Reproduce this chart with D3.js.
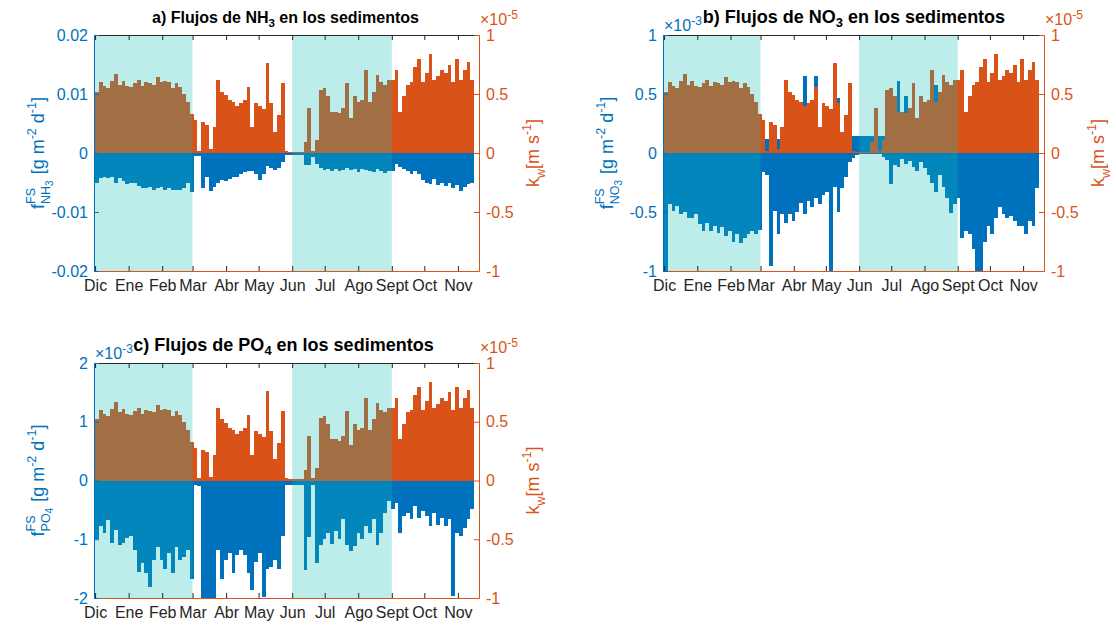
<!DOCTYPE html>
<html>
<head>
<meta charset="utf-8">
<script src="https://cdn.jsdelivr.net/npm/d3@7"></script>
<style>
  body { margin: 0; background: #fff; }
  svg { display: block; font-family: "Liberation Sans", Arial, Helvetica, sans-serif; }
  text { white-space: pre; }
</style>
</head>
<body>
<svg id="chart" width="1116" height="625"></svg>
<script>
// day offsets from 1 Dec and their labels
const monthStart = [0, 31, 62, 90, 121, 151, 182, 212, 243, 274, 304, 335];
const monthLabels = ['Dic', 'Ene', 'Feb', 'Mar', 'Abr', 'May', 'Jun', 'Jul', 'Ago', 'Sept', 'Oct', 'Nov'];
const stepDays = 3.5;                       // each bar covers 3.5 days
const shadedPeriods = [[0, 90], [182, 274]]; // Dic-Mar, Jun-Sept

// k_w (x 1e-5 m/s), same series in the three panels
const kw = [
  0.52, 0.60, 0.57, 0.55, 0.61, 0.67, 0.58, 0.61, 0.57, 0.56,
  0.59, 0.62, 0.57, 0.60, 0.59, 0.58, 0.64, 0.60, 0.61, 0.60,
  0.55, 0.59, 0.56, 0.50, 0.43, 0.33, 0.28, 0.02, 0.26, 0.24,
  0.03, 0.22, 0.62, 0.52, 0.49, 0.45, 0.43, 0.40, 0.42, 0.45,
  0.56, 0.22, 0.42, 0.40, 0.37, 0.76, 0.42, 0.18, 0.32, 0.59,
  0.02, 0.01, 0.01, 0.01, 0.01, 0.09, 0.38, 0.02, 0.11, 0.53,
  0.55, 0.48, 0.35, 0.35, 0.34, 0.38, 0.59, 0.30, 0.48, 0.43,
  0.45, 0.70, 0.43, 0.52, 0.66, 0.60, 0.58, 0.62, 0.62, 0.70,
  0.35, 0.48, 0.58, 0.60, 0.73, 0.80, 0.60, 0.68, 0.84, 0.62,
  0.65, 0.70, 0.68, 0.75, 0.60, 0.80, 0.62, 0.70, 0.77, 0.62
];

// NH3 flux (g m-2 d-1)
const fluxNH3 = [
  -0.0050, -0.0042, -0.0040, -0.0042, -0.0040, -0.0050, -0.0043, -0.0048, -0.0052, -0.0050,
  -0.0050, -0.0056, -0.0059, -0.0060, -0.0058, -0.0062, -0.0060, -0.0057, -0.0062, -0.0060,
  -0.0062, -0.0062, -0.0063, -0.0060, -0.0050, -0.0066, -0.0005, -0.0005, -0.0060, -0.0040,
  -0.0065, -0.0058, -0.0050, -0.0045, -0.0047, -0.0044, -0.0040, -0.0040, -0.0036, -0.0033,
  -0.0030, -0.0030, -0.0036, -0.0045, -0.0035, -0.0022, -0.0025, -0.0028, -0.0025, -0.0015,
  -0.0004, -0.0004, -0.0004, -0.0004, -0.0004, -0.0021, -0.0021, -0.0006, -0.0018, -0.0026,
  -0.0028, -0.0027, -0.0030, -0.0027, -0.0030, -0.0029, -0.0025, -0.0029, -0.0027, -0.0032,
  -0.0027, -0.0028, -0.0030, -0.0033, -0.0027, -0.0031, -0.0034, -0.0030, -0.0030, -0.0018,
  -0.0024, -0.0027, -0.0030, -0.0035, -0.0030, -0.0035, -0.0045, -0.0050, -0.0052, -0.0044,
  -0.0055, -0.0050, -0.0056, -0.0050, -0.0060, -0.0055, -0.0064, -0.0058, -0.0052, -0.0050
];

// NO3 flux (x 1e-3 g m-2 d-1): uptake (negative) and release (positive) per period
const fluxNO3Neg = [
  -1.00, -0.43, -0.49, -0.45, -0.52, -0.50, -0.55, -0.55, -0.52, -0.60,
  -0.66, -0.59, -0.66, -0.62, -0.68, -0.63, -0.70, -0.66, -0.75, -0.69,
  -0.76, -0.72, -0.69, -0.66, -0.69, -0.65, -0.16, -0.19, -0.96, -0.49,
  -0.69, -0.52, -0.59, -0.52, -0.58, -0.50, -0.42, -0.52, -0.41, -0.46,
  -0.38, -0.43, -0.36, -0.33, -1.00, -0.29, -0.50, -0.30, -0.20, -0.08,
  -0.04, -0.02, -0.01, -0.01, -0.01, -0.01, -0.01, -0.01, -0.03, -0.06,
  -0.26, -0.10, -0.12, -0.05, -0.09, -0.07, -0.12, -0.15, -0.08, -0.13,
  -0.19, -0.25, -0.33, -0.19, -0.29, -0.38, -0.51, -0.43, -0.38, -0.72,
  -0.66, -0.69, -0.81, -1.00, -1.00, -0.75, -0.62, -0.69, -0.55, -0.46,
  -0.52, -0.55, -0.53, -0.58, -0.62, -0.62, -0.69, -0.58, -0.62, -0.30
];
const fluxNO3Pos = [
  0, 0, 0, 0, 0, 0, 0, 0, 0, 0,
  0, 0, 0, 0, 0, 0, 0, 0, 0, 0,
  0, 0, 0, 0, 0, 0, 0.12, 0.12, 0.12, 0.12,
  0.12, 0.12, 0.12, 0.12, 0.12, 0.12, 0.12, 0.65, 0.12, 0.12,
  0.65, 0.12, 0.12, 0.12, 0.12, 0.12, 0.47, 0.13, 0.13, 0.54,
  0.14, 0.14, 0.14, 0.14, 0.14, 0.14, 0.14, 0.14, 0.14, 0.14,
  0.14, 0.14, 0.61, 0.14, 0.48, 0.14, 0.14, 0.14, 0.14, 0.14,
  0.14, 0.14, 0.58, 0.14, 0.14, 0.14, 0.14, 0.14, 0.14, 0.57,
  0.14, 0.14, 0.14, 0.14, 0.14, 0.14, 0.14, 0.14, 0.14, 0.14,
  0.14, 0.14, 0.14, 0.14, 0.14, 0.14, 0.14, 0.14, 0.14, 0.14
];

// PO4 flux (x 1e-3 g m-2 d-1)
const fluxPO4 = [
  -1.00, -0.78, -0.90, -0.67, -1.07, -0.84, -1.10, -1.07, -0.98, -0.95,
  -1.18, -1.55, -1.40, -1.58, -1.81, -1.35, -1.13, -1.35, -1.50, -1.24,
  -1.58, -1.13, -1.35, -1.30, -1.18, -1.67, -0.08, -0.10, -2.00, -2.00,
  -2.00, -2.00, -1.18, -1.67, -1.35, -1.24, -1.58, -1.27, -1.18, -1.27,
  -1.58, -1.87, -1.38, -1.24, -1.98, -1.50, -1.47, -1.35, -1.50, -0.95,
  -0.07, -0.07, -0.07, -0.07, -0.07, -1.53, -0.97, -0.07, -1.40, -1.10,
  -1.00, -0.89, -1.08, -0.86, -1.00, -0.66, -1.10, -1.20, -1.11, -0.89,
  -1.00, -0.77, -0.90, -0.66, -1.10, -0.89, -0.55, -0.35, -0.49, -0.38,
  -0.89, -0.60, -0.55, -0.66, -0.44, -0.63, -0.52, -0.60, -0.77, -0.55,
  -0.75, -0.63, -0.77, -0.66, -1.96, -0.89, -0.94, -0.80, -0.66, -0.49
];

const ticksNH3 = [-0.02, -0.01, 0, 0.01, 0.02];
const ticksNO3 = [-1, -0.5, 0, 0.5, 1];
const ticksPO4 = [-2, -1, 0, 1, 2];
const ticksKw = [-1, -0.5, 0, 0.5, 1];

const BLUE = '#0072BD', ORANGE = '#D95319', DARK = '#262626';
const TICK_FONT = 16;
const svg = d3.select('#chart');

function rotatedLabel(cx, cy, pieces, color) {
  const g = svg.append('g')
      .attr('transform', `translate(${cx},${cy}) rotate(-90)`)
      .attr('fill', color);
  let cursor = 0;
  const put = (t, x, y, size) => g.append('text')
      .attr('x', x).attr('y', y).attr('font-size', size).text(t)
      .node().getComputedTextLength();
  pieces.forEach(pc => {
    if (pc.stack) {
      const w1 = put(pc.stack[0], cursor, -9, 12.5);
      let w2 = put(pc.stack[1], cursor, 6, 12.5);
      if (pc.stack[2]) w2 += put(pc.stack[2], cursor + w2, 9, 10);
      cursor += Math.max(w1, w2) + 1;
    } else {
      cursor += put(pc.t, cursor, pc.dy || 0, pc.size || 18);
    }
  });
  g.selectAll('text').attr('x', function() { return +this.getAttribute('x') - cursor / 2; });
}

function exponent(x, y, power, color) {
  const t = svg.append('text').attr('x', x).attr('y', y).attr('fill', color).attr('font-size', 16);
  t.append('tspan').text('\u00d710');
  t.append('tspan').attr('font-size', 12).attr('dy', -6).text(power);
}

function panel(p) {
  const x = d3.scaleLinear().domain([-1, 354.5]).range([p.left, p.right]);
  const y = d3.scaleLinear().domain(p.domain).range([p.bottom, p.top]);
  const y2 = d3.scaleLinear().domain([-1, 1]).range([p.bottom, p.top]);
  const g = svg.append('g');
  const barX = (d, i) => x(i * stepDays);
  const barW = (d, i) => x((i + 1) * stepDays) - x(i * stepDays);

  p.series.forEach(s => {
    g.append('g').attr('fill', BLUE).attr('shape-rendering', 'crispEdges')
      .selectAll('rect').data(s).join('rect')
        .attr('x', barX).attr('width', barW)
        .attr('y', d => y(Math.max(0, d)))
        .attr('height', d => Math.abs(y(d) - y(0)));
  });

  g.append('g').attr('fill', ORANGE).attr('shape-rendering', 'crispEdges')
    .selectAll('rect').data(kw).join('rect')
      .attr('x', barX).attr('width', barW)
      .attr('y', d => y2(d))
      .attr('height', d => y2(0) - y2(d));

  g.append('g').selectAll('rect').data(shadedPeriods).join('rect')
      .attr('x', d => x(d[0])).attr('width', d => x(d[1]) - x(d[0]))
      .attr('y', p.top).attr('height', p.bottom - p.top)
      .attr('fill', 'rgb(10,188,182)').attr('fill-opacity', 0.27);

  // axes
  const top = g.append('g').attr('transform', `translate(0,${p.top})`)
      .call(d3.axisTop(x).tickValues(monthStart).tickFormat('').tickSizeInner(-5).tickSizeOuter(0));
  top.select('.domain').attr('stroke', DARK);
  top.selectAll('.tick line').attr('stroke', DARK);

  const bottom = g.append('g').attr('transform', `translate(0,${p.bottom})`)
      .call(d3.axisBottom(x).tickValues(monthStart).tickFormat((d, i) => monthLabels[i])
        .tickSizeInner(-5).tickSizeOuter(0).tickPadding(9));
  bottom.select('.domain').attr('stroke', ORANGE);
  bottom.selectAll('.tick line').attr('stroke', DARK);
  bottom.selectAll('text').attr('fill', DARK).attr('font-size', TICK_FONT).attr('font-family', null);

  const left = g.append('g').attr('transform', `translate(${p.left},0)`)
      .call(d3.axisLeft(y).tickValues(p.ticks).tickFormat(d => String(d))
        .tickSizeInner(-5).tickSizeOuter(0).tickPadding(6));
  left.selectAll('.domain, .tick line').attr('stroke', BLUE);
  left.selectAll('text').attr('fill', BLUE).attr('font-size', TICK_FONT).attr('font-family', null);

  const right = g.append('g').attr('transform', `translate(${p.right},0)`)
      .call(d3.axisRight(y2).tickValues(ticksKw).tickFormat(d => String(d))
        .tickSizeInner(-5).tickSizeOuter(0).tickPadding(7));
  right.selectAll('.domain, .tick line').attr('stroke', ORANGE);
  right.selectAll('text').attr('fill', ORANGE).attr('font-size', TICK_FONT).attr('font-family', null);

  // title
  const t = svg.append('text')
      .attr('x', p.titleX).attr('y', p.top - 12.5)
      .attr('text-anchor', 'middle').attr('font-weight', 'bold')
      .attr('font-size', p.titleSize).attr('fill', '#000');
  t.append('tspan').text(p.title[0]);
  t.append('tspan').attr('font-size', p.titleSize * 0.72).attr('dy', 4).text(p.title[1]);
  t.append('tspan').attr('dy', -4).text(p.title[2]);

  if (p.power) exponent(p.left + 1, p.top - 4, p.power, BLUE);
  exponent(p.right + 1, p.top - 10, '-5', ORANGE);

  const cy = (p.top + p.bottom) / 2;
  rotatedLabel(p.left - 50, cy, [
    { t: 'f' }, { stack: ['FS', p.species[0], p.species[1]] },
    { t: ' [g m' }, { t: '-2', dy: -8, size: 12.5 }, { t: ' d' }, { t: '-1', dy: -8, size: 12.5 }, { t: ']' }
  ], BLUE);
  rotatedLabel(p.right + 60, cy, [
    { t: 'k' }, { t: 'w', dy: 6, size: 12.5 }, { t: '[m s' }, { t: '-1', dy: -8, size: 12.5 }, { t: ']' }
  ], ORANGE);
}

panel({ left: 94, right: 479, top: 35, bottom: 271, domain: [-0.02, 0.02], ticks: ticksNH3,
  series: [fluxNH3], title: ['a) Flujos de NH', '3', ' en los sedimentos'], species: ['NH', '3'],
  titleX: 285.5, titleSize: 16 });
panel({ left: 663, right: 1044, top: 35, bottom: 271, domain: [-1, 1], ticks: ticksNO3, power: '-3',
  series: [fluxNO3Pos, fluxNO3Neg], title: ['b) Flujos de NO', '3', ' en los sedimentos'], species: ['NO', '3'],
  titleX: 854, titleSize: 18 });
panel({ left: 94, right: 479, top: 363, bottom: 598, domain: [-2, 2], ticks: ticksPO4, power: '-3',
  series: [fluxPO4], title: ['c) Flujos de PO', '4', ' en los sedimentos'], species: ['PO', '4'],
  titleX: 283.5, titleSize: 18 });
</script>
</body>
</html>
